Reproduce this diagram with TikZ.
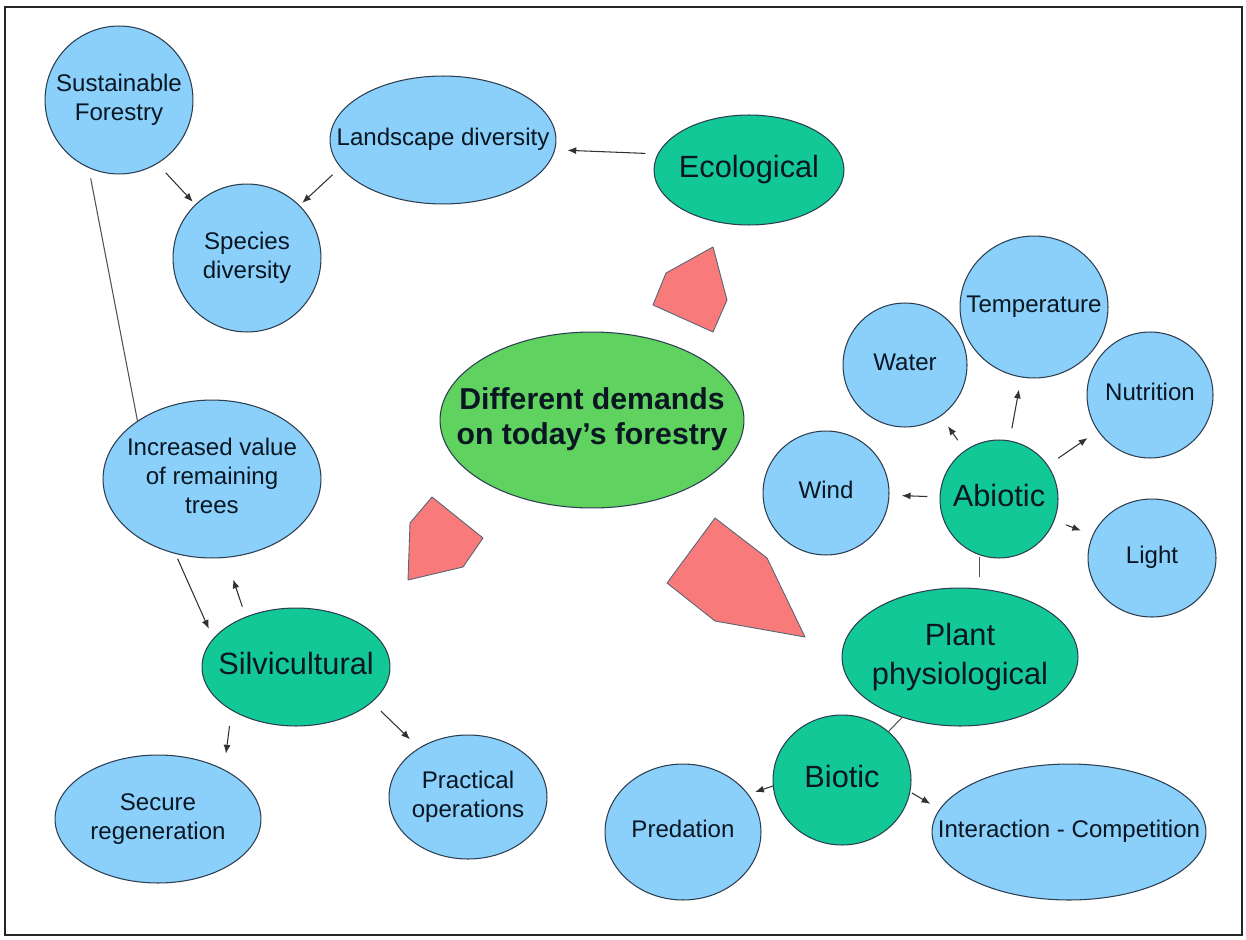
\documentclass[tikz,border=0pt]{standalone}
\usepackage{fontspec}
\setmainfont{Liberation Sans}
\usetikzlibrary{shapes.geometric,arrows.meta}

\definecolor{skyfill}{RGB}{138,208,250}
\definecolor{tealfill}{RGB}{18,200,150}
\definecolor{hubfill}{RGB}{96,210,96}
\definecolor{wedgefill}{RGB}{248,122,122}
\definecolor{rim}{RGB}{45,62,80}
\definecolor{ink}{RGB}{10,22,34}
\definecolor{wire}{RGB}{50,50,50}

\newcommand{\nodetext}[1]{\makebox[0pt]{\begin{tabular}{@{}c@{}}#1\end{tabular}}}

\tikzset{
  dims/.style 2 args={minimum width=#1*0.04cm, minimum height=#2*0.04cm},
  bubble/.style={ellipse, draw=rim, line width=0.6pt, inner sep=0pt, text=ink},
  leaf/.style={bubble, fill=skyfill, font=\fontsize{13.7}{16.5}\selectfont},
  branch/.style={bubble, fill=tealfill, font=\fontsize{17.5}{22.5}\selectfont},
  hub/.style={bubble, fill=hubfill, font=\fontsize{17.2}{20}\selectfont\bfseries},
  link/.style={->, draw=wire, line width=0.6pt, shorten <=7pt, shorten >=7pt},
  tie/.style={draw=wire!85, line width=0.6pt},
  wedge/.style={fill=wedgefill, draw=rim!80, line width=0.5pt, line join=round}
}

\begin{document}
\begin{tikzpicture}[x=0.02cm, y=-0.02cm, >={Latex[length=5pt,width=4pt]}]
  \useasboundingbox (0,0) rectangle (1246,939);
  \draw[line width=0.8pt, black!85] (5,7) rectangle (1242,935);

  % top left
  \node[leaf, dims={74}{74}] (sust) at (119,100) {\nodetext{Sustainable\\Forestry}};
  \node[leaf, dims={113}{64}] (land) at (443,140) {\nodetext{Landscape diversity}};
  \node[leaf, dims={74}{74}] (spec) at (247,258) {\nodetext{Species\\diversity}};
  \node[branch, dims={95}{55}] (ecol) at (749,170) {\nodetext{Ecological}};
  \node[hub, dims={152}{88}] (hub) at (592,420) {\nodetext{Different demands\\on today’s forestry}};

  % silvicultural side
  \node[leaf, dims={109}{79}] (incr) at (212,479) {\nodetext{Increased value\\of remaining\\trees}};
  \node[branch, dims={94}{59}] (silv) at (296,667) {\nodetext{Silvicultural}};
  \node[leaf, dims={103}{64}] (secu) at (158,819) {\nodetext{Secure\\regeneration}};
  \node[leaf, dims={79}{62}] (prac) at (468,797) {\nodetext{Practical\\operations}};

  % plant physiological side
  \node[branch, dims={59}{59}] (abio) at (999,499) {\nodetext{Abiotic}};
  \node[leaf, dims={63}{62}] (wind) at (826,493) {\nodetext{Wind}};
  \node[leaf, dims={62}{62}] (water) at (905,365) {\nodetext{Water}};
  \node[leaf, dims={74}{71}] (temp) at (1034,307) {\nodetext{Temperature}};
  \node[leaf, dims={63}{63}] (nutr) at (1150,395) {\nodetext{Nutrition}};
  \node[leaf, dims={64}{59}] (light) at (1152,558) {\nodetext{Light}};
  \node[branch, dims={118}{69}] (plant) at (960,657) {\nodetext{Plant\\physiological}};
  \node[branch, dims={69}{65}] (biot) at (842,780) {\nodetext{Biotic}};
  \node[leaf, dims={78}{68}] (pred) at (683,832) {\nodetext{Predation}};
  \node[leaf, dims={137}{68}] (inter) at (1069,832) {\nodetext{Interaction - Competition}};

  % big arrows round the hub
  \filldraw[wedge] (713,247) -- (727,300) -- (713,332) -- (653,305) -- (666,273) -- cycle;
  \filldraw[wedge] (432,497) -- (483,538) -- (463,567) -- (408,580) -- (410,523) -- cycle;
  \filldraw[wedge] (715,518) -- (767,558) -- (805,637) -- (715,621) -- (667,583) -- cycle;

  \draw[link, shorten >=2pt] (sust.-59) -- (spec.134);
  \draw[link, shorten <=6pt, shorten >=2pt] (land.-165) -- (spec.45);
  \draw[link] (ecol.170) -- (land.-5);
  \draw[tie, shorten <=6pt] (sust.-114) -- (incr.142);
  \draw[link, shorten <=3pt, shorten >=6pt] (incr.-116) -- (silv.161);
  \draw[link, shorten <=6pt, shorten >=13pt] (silv.135) -- (incr.-80);
  \draw[link, shorten <=9pt, shorten >=9pt] (silv.-146) -- (secu.37);
  \draw[link] (silv.-25) -- (prac.135);

  \foreach \leaf in {wind,water,temp,nutr,light}
    \draw[link] (abio) -- (\leaf);
  \draw[tie, shorten <=1pt, shorten >=6pt] (abio.-109) -- (abio.-109 |- plant.north);
  \draw[tie] (plant) -- (biot);
  \draw[link, shorten <=0pt, shorten >=4pt] (biot.185) -- (pred.30);
  \draw[link, shorten <=1pt, shorten >=6pt] (biot.-10) -- (inter.170);
\end{tikzpicture}
\end{document}
